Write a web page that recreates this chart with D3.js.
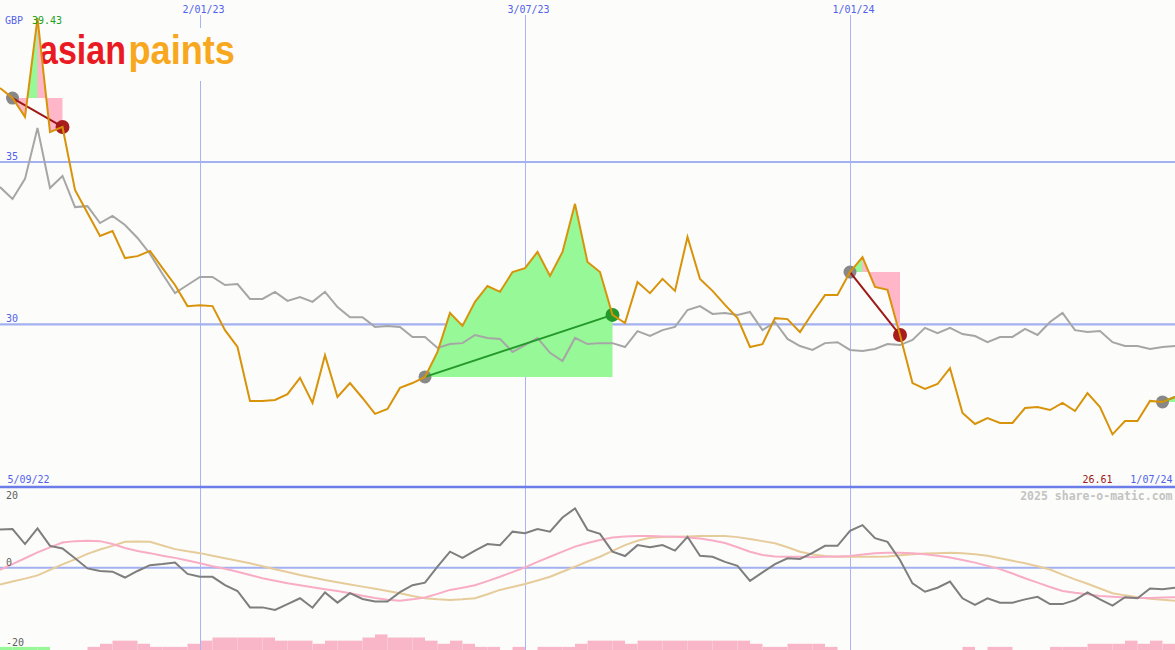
<!DOCTYPE html>
<html><head><meta charset="utf-8">
<script src="https://cdn.jsdelivr.net/npm/d3@7"></script>
<style>html,body{margin:0;padding:0;background:#fcfdfa;} svg{display:block}</style>
</head><body><svg id="c" width="1175" height="650"></svg>
<script>
// ---- data ----
const chartStart = new Date(Date.UTC(2022, 8, 5));
const firstWeek = new Date(Date.UTC(2022, 8, 12));
const lastWeek = new Date(Date.UTC(2024, 6, 1));
const weeks = d3.utcMonday.range(firstWeek, d3.utcDay.offset(lastWeek, 1));

const price = [
37.28, 36.97, 36.39, 39.43, 35.92, 36.08, 34.14, 33.43, 32.72, 32.87,
32.04, 32.10, 32.26, 31.73, 31.21, 30.56, 30.59, 30.56, 29.82, 29.30,
27.64, 27.64, 27.67, 27.85, 28.35, 27.58, 29.05, 27.76, 28.19, 27.73,
27.24, 27.39, 28.04, 28.19, 28.38, 29.15, 30.35, 29.95, 30.69, 31.18,
31.00, 31.61, 31.73, 32.23, 31.49, 32.23, 33.71, 31.92, 31.61, 30.29,
30.04, 31.30, 30.96, 31.40, 31.03, 32.69, 31.40, 31.03, 30.60, 30.19,
29.30, 29.39, 30.19, 30.16, 29.76, 30.35, 30.90, 30.90, 31.61, 32.07,
31.15, 31.06, 29.67, 28.19, 28.01, 28.16, 28.65, 27.27, 26.93, 27.11,
26.96, 26.96, 27.42, 27.45, 27.36, 27.58, 27.33, 27.88, 27.45, 26.61,
27.02, 27.02, 27.64, 27.61, 27.76
];

const relative = [
34.23, 33.86, 34.48, 36.05, 34.20, 34.57, 33.61, 33.64, 33.12, 33.34,
33.06, 32.66, 32.17, 31.55, 30.96, 31.21, 31.46, 31.46, 31.21, 31.24,
30.78, 30.78, 31.00, 30.72, 30.84, 30.69, 31.00, 30.53, 30.22, 30.22,
29.92, 29.95, 29.92, 29.61, 29.61, 29.27, 29.39, 29.42, 29.67, 29.58,
29.55, 29.15, 29.36, 29.58, 29.12, 28.87, 29.58, 29.39, 29.42, 29.42,
29.30, 29.79, 29.64, 29.82, 29.92, 30.44, 30.56, 30.32, 30.35, 30.29,
30.38, 29.82, 30.07, 29.55, 29.33, 29.21, 29.42, 29.45, 29.21, 29.18,
29.24, 29.39, 29.36, 29.52, 29.89, 29.73, 29.89, 29.70, 29.64, 29.45,
29.61, 29.61, 29.86, 29.67, 30.07, 30.35, 29.82, 29.76, 29.79, 29.45,
29.33, 29.33, 29.24, 29.30, 29.33
];

const momentum = [
10.5, 10.6, 6.5, 10.8, 6.0, 5.3, 2.6, -0.2, -0.9, -1.1,
-2.7, -0.9, 0.7, 1.0, 1.4, -1.7, -2.5, -2.5, -4.8, -6.4,
-10.9, -10.9, -11.6, -10.0, -8.4, -11.0, -6.8, -9.6, -7.0, -8.6,
-9.3, -9.3, -6.7, -4.8, -4.1, 0.3, 4.4, 2.7, 4.7, 6.5,
6.2, 9.9, 9.5, 10.6, 9.9, 13.8, 16.3, 10.4, 9.3, 4.4,
3.2, 6.2, 5.6, 6.2, 4.7, 8.5, 3.3, 3.0, 1.6, 0.5,
-3.6, -1.3, 1.0, 2.6, 2.4, 4.1, 6.0, 6.0, 10.1, 11.7,
8.1, 7.1, 2.1, -4.3, -6.6, -5.5, -3.8, -8.4, -10.2, -8.4,
-9.6, -9.6, -8.7, -8.0, -10.0, -10.0, -8.9, -6.8, -8.7, -10.4,
-8.1, -8.4, -5.7, -5.9, -5.5
];

const fastAvg = [
-0.6, 1.0, 2.6, 4.2, 5.6, 6.9, 7.3, 7.4, 7.3, 6.5,
5.4, 4.6, 4.0, 3.3, 2.7, 2.0, 1.2, 0.4, -0.3, -1.1,
-2.0, -2.9, -3.6, -4.3, -4.8, -5.4, -5.9, -6.4, -7.0, -7.7,
-8.3, -8.8, -9.1, -8.7, -8.2, -7.2, -6.1, -5.5, -4.8, -3.7,
-2.5, -1.2, 0.1, 1.6, 3.0, 4.4, 5.8, 6.8, 7.6, 8.3,
8.6, 8.7, 8.7, 8.6, 8.5, 8.3, 8.0, 7.5, 6.8, 5.6,
4.4, 3.5, 3.1, 3.0, 3.0, 2.9, 3.0, 3.1, 3.2, 3.6,
4.0, 4.1, 4.1, 4.0, 3.7, 3.3, 2.8, 2.1, 1.4, 0.5,
-0.4, -1.6, -2.9, -4.1, -5.3, -6.4, -6.9, -7.3, -7.8, -8.0,
-8.2, -8.3, -8.3, -8.2, -8.1
];

const slowAvg = [
-4.6, -3.8, -3.0, -2.1, -0.6, 0.9, 2.3, 3.8, 5.0, 6.0,
7.1, 7.2, 7.1, 6.1, 5.1, 4.5, 4.0, 3.3, 2.6, 1.9,
1.2, 0.4, -0.4, -1.2, -2.0, -2.7, -3.4, -4.0, -4.6, -5.2,
-5.8, -6.4, -7.0, -7.8, -8.4, -8.7, -8.9, -8.7, -8.4, -7.3,
-6.1, -5.3, -4.5, -3.5, -2.5, -1.1, 0.3, 1.7, 3.0, 4.6,
6.2, 7.4, 8.2, 8.4, 8.5, 8.6, 8.7, 8.7, 8.7, 8.4,
7.9, 7.3, 6.7, 5.6, 4.4, 3.6, 3.2, 3.0, 3.0, 3.0,
3.0, 3.1, 3.4, 3.7, 3.9, 4.0, 4.1, 4.0, 3.7, 3.3,
2.6, 1.9, 1.2, 0.4, -0.5, -1.9, -3.2, -4.4, -5.7, -7.0,
-7.6, -8.1, -8.5, -8.8, -9.1
];

const volumeLevel = [
1,1,1,1,0,0,0,1,2,3, 3,2,1,1,1,2,3,4,4,4, 4,4,3,3,3,2,3,3,3,4,
5,4,4,4,3,2,3,2,1,1, 0,1,0,1,1,1,2,3,3,3, 2,3,3,3,3,3,3,3,3,3,
2,1,1,2,2,2,1,0,0,0, 0,0,0,0,0,0,0,1,0,1, 1,0,0,0,1,1,1,2,2,2,
3,2,3,2
];
const volumeUpBars = [0, 1, 2, 3];

const tradeEntry = [1, 34, 68, 93];
const tradeExit  = [5, 49, 72, 94];
const tradeOpen  = [false, false, false, true];

const topTickDates = [new Date(Date.UTC(2023,0,2)), new Date(Date.UTC(2023,6,3)), new Date(Date.UTC(2024,0,1))];
const priceTicks = [35, 30];
const indicatorTicks = [20, 0, -20];
const logoWords = ["asian", "paints"];

// ---- drawing ----
const W = 1175, H = 650;
const svg = d3.select("#c");
const fmtDate = d3.utcFormat("%-d/%m/%y");
const mono = "DejaVu Sans Mono, monospace";
const blue = "#5262ea";

const x = d3.scaleUtc().domain([weeks[0], weeks[weeks.length - 1]]).range([0, W]);
const yP = d3.scaleLinear().domain([30, 35]).range([324.3, 162]);
const yI = d3.scaleLinear().domain([-20, 20]).range([640.5, 494.9]);
const yV = d3.scaleLinear().domain([0, 5]).range([650, 634.4]);

svg.append("rect").attr("width", W).attr("height", H).attr("fill", "#fcfdfa");

// volume bars
svg.append("g").selectAll("rect")
  .data(volumeLevel.map((v, k) => ({v, k})).filter(d => d.v > 0))
  .join("rect")
  .attr("x", d => x(weeks[d.k]))
  .attr("width", d => x(weeks[d.k + 1]) - x(weeks[d.k]))
  .attr("y", d => yV(d.v))
  .attr("height", d => yV(0) - yV(d.v))
  .attr("fill", d => volumeUpBars.includes(d.k) ? "#98f898" : "#fab6c9");

// grid
const grid = svg.append("g");
grid.selectAll("line.v").data(topTickDates).join("line")
  .attr("x1", d => Math.round(x(d)) + 0.5).attr("x2", d => Math.round(x(d)) + 0.5)
  .attr("y1", 15).attr("y2", H)
  .attr("stroke", "#a8b5f2").attr("stroke-width", 1);
grid.selectAll("line.h").data(priceTicks).join("line")
  .attr("x1", 0).attr("x2", W).attr("y1", d => yP(d)).attr("y2", d => yP(d))
  .attr("stroke", "#a4b1f1").attr("stroke-width", 2.2);
grid.append("line").attr("x1", 0).attr("x2", W).attr("y1", yI(0)).attr("y2", yI(0))
  .attr("stroke", "#a4b1f1").attr("stroke-width", 2);
grid.append("line").attr("x1", 0).attr("x2", W).attr("y1", 487).attr("y2", 487)
  .attr("stroke", "#6b7de9").attr("stroke-width", 2.4);

// logo (each word scaled horizontally to fit its slot)
const logo = svg.append("g");
logo.append("rect").attr("x", 38).attr("y", 28).attr("width", 200).attr("height", 53).attr("fill", "#fcfdfa");
const logoSlots = [{x0: 39, w: 87, fill: "#ea1a22"}, {x0: 128.5, w: 106.5, fill: "#f7a81e"}];
logoWords.forEach((word, k) => {
  const slot = logoSlots[k];
  const t = logo.append("text").attr("x", 0).attr("y", 0).text(word)
    .attr("font-family", "Liberation Sans, Arial, sans-serif").attr("font-weight", 700)
    .attr("font-size", 41).attr("fill", slot.fill);
  const natural = t.node().getComputedTextLength() || slot.w;
  t.attr("transform", `translate(${slot.x0},64) scale(${slot.w / natural},1)`);
});

// trade fills
const fills = svg.append("g");
const defs = svg.append("defs");
tradeEntry.forEach((e, t) => {
  const xEnd = tradeExit[t];
  const entryVal = price[e], exitVal = price[xEnd];
  const win = exitVal >= entryVal;
  const idx = d3.range(e, xEnd + 1);
  const area = d3.area().x(i => x(weeks[i])).y0(yP(entryVal)).y1(i => yP(price[i]));
  fills.append("path").attr("d", area(idx)).attr("fill", win ? "#96f896" : "#feb6c8");
  if (!win) {
    const peak = idx.reduce((a, b) => price[b] > price[a] ? b : a, e);
    if (peak > e) {
      const id = "clip" + t;
      defs.append("clipPath").attr("id", id).append("rect")
        .attr("x", x(weeks[e])).attr("y", 0)
        .attr("width", x(weeks[peak]) - x(weeks[e])).attr("height", yP(entryVal));
      fills.append("path").attr("d", area(d3.range(e, peak + 1)))
        .attr("fill", "#96f896").attr("clip-path", `url(#${id})`);
    }
  }
});

// relative line
const lineP = d3.line().x((d, i) => x(weeks[i])).y(d => yP(d));
svg.append("path").attr("d", lineP(relative)).attr("fill", "none")
  .attr("stroke", "#a6a6a6").attr("stroke-width", 2);

// trade connectors & markers
const marks = svg.append("g");
tradeEntry.forEach((e, t) => {
  const xEnd = tradeExit[t];
  const win = price[xEnd] >= price[e];
  marks.append("circle").attr("cx", x(weeks[e])).attr("cy", yP(price[e])).attr("r", 6.5).attr("fill", "#888888");
  if (!tradeOpen[t]) {
    marks.append("circle").attr("cx", x(weeks[xEnd])).attr("cy", yP(price[xEnd])).attr("r", 7)
      .attr("fill", win ? "#23992a" : "#a81d1d");
  }
  marks.append("line")
    .attr("x1", x(weeks[e])).attr("y1", yP(price[e]))
    .attr("x2", x(weeks[xEnd])).attr("y2", yP(price[xEnd]))
    .attr("stroke", win ? "#23992a" : "#9e1818").attr("stroke-width", 2);
});

// price line
svg.append("path").attr("d", lineP(price)).attr("fill", "none")
  .attr("stroke", "#d8930b").attr("stroke-width", 2).attr("stroke-linejoin", "miter");

// indicator lines
const lineI = d3.line().x((d, i) => x(weeks[i])).y(d => yI(d));
svg.append("path").attr("d", lineI(slowAvg)).attr("fill", "none").attr("stroke", "#e6cb9b").attr("stroke-width", 2);
svg.append("path").attr("d", lineI(fastAvg)).attr("fill", "none").attr("stroke", "#f8acc6").attr("stroke-width", 2);
svg.append("path").attr("d", lineI(momentum)).attr("fill", "none").attr("stroke", "#7e7e7e").attr("stroke-width", 2);

// labels
const txt = (s, xx, yy, fill, anchor = "start", size = 10, weight = 400) =>
  svg.append("text").attr("x", xx).attr("y", yy).text(s)
    .attr("font-family", mono).attr("font-size", size).attr("font-weight", weight)
    .attr("fill", fill).attr("text-anchor", anchor);

topTickDates.forEach(d => txt(fmtDate(d), x(d) + 3.5, 13, blue, "middle"));
txt("GBP", 5, 24, blue);
txt(d3.max(price).toFixed(2), 32, 24, "#22a022");
priceTicks.forEach(v => txt(String(v), 6, yP(v) - 2, blue));
txt(fmtDate(chartStart), 7.5, 483, blue);
txt(d3.min(price).toFixed(2), 1082.5, 483, "#a01818");
txt(fmtDate(weeks[weeks.length - 1]), 1172.5, 483, blue, "end");
txt("2025 share-o-matic.com", 1172.5, 500, "#c3c3c3", "end", 11.5, 700);
const indLabelY = {"20": 499, "0": 566, "-20": 646};
indicatorTicks.forEach(v => txt(String(v), 6, indLabelY[String(v)], "#5e5e5e"));
</script>
</body></html>
